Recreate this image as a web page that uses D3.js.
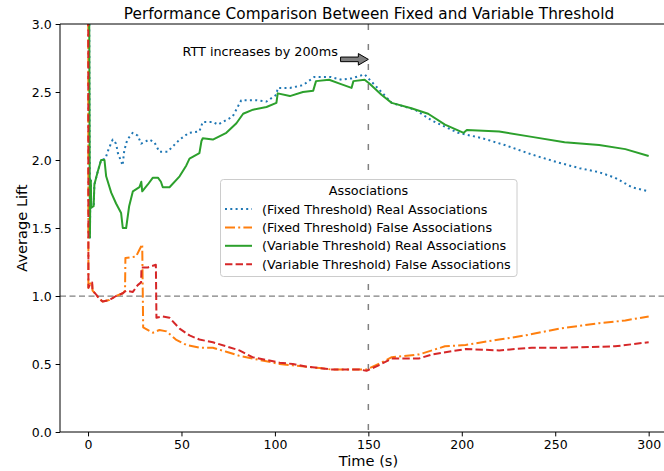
<!DOCTYPE html>
<html><head><meta charset="utf-8">
<script src="https://cdn.jsdelivr.net/npm/d3@7"></script>
<style>body{margin:0;background:#fff}svg{display:block}text{font-family:"DejaVu Sans",sans-serif;fill:#000}</style>
</head><body><svg id="c" width="664" height="471"></svg>
<script>
const xTicks=[0,50,100,150,200,250,300];
const yTicks=[0,0.5,1.0,1.5,2.0,2.5,3.0];
const seriesNames=["(Fixed Threshold) Real Associations","(Fixed Threshold) False Associations","(Variable Threshold) Real Associations","(Variable Threshold) False Associations"];
const fixedReal=[[0,6],[1,1.43],[1.3,1.85],[1.5,1.85],[1.7,1.65],[3,1.66],[3.4,1.82],[5.1,1.91],[7,2.0],[9.3,2.01],[11,2.08],[13.2,2.15],[15,2.12],[16,2.05],[17.7,1.99],[18.5,1.96],[19.4,2.07],[21,2.15],[23.9,2.20],[26.6,2.18],[28.4,2.12],[32.8,2.15],[35.5,2.13],[38.2,2.06],[42.5,2.06],[49,2.15],[54,2.20],[59.6,2.21],[61.4,2.28],[66.8,2.28],[69.6,2.26],[77.4,2.32],[82,2.44],[90,2.44],[95.5,2.43],[100.8,2.48],[101.5,2.53],[108,2.53],[115,2.55],[121,2.61],[130,2.61],[135.7,2.59],[141,2.60],[148,2.63],[150,2.60],[157,2.50],[162.5,2.42],[175,2.37],[184,2.29],[198,2.20],[211,2.16],[223,2.11],[237.5,2.04],[252,1.98],[263,1.94],[273.5,1.91],[282,1.87],[291,1.80],[300,1.77]];
const fixedFalse=[[0,6],[0.2,1.06],[1.6,1.10],[2.2,1.10],[2.4,1.04],[4.4,1.01],[6,0.98],[7.8,0.96],[11.4,0.97],[15,1.0],[18.6,1.02],[19.8,1.04],[20,1.28],[25.7,1.29],[27.5,1.34],[29,1.38],[29.5,0.77],[34.7,0.73],[38.2,0.75],[42,0.74],[47,0.68],[52.6,0.64],[59.6,0.62],[66.8,0.62],[74,0.59],[81,0.56],[88,0.54],[95.5,0.52],[102.5,0.50],[109.6,0.49],[124,0.47],[130,0.46],[145,0.46],[149,0.46],[155.5,0.50],[162.5,0.55],[177,0.57],[191,0.63],[202,0.64],[220,0.68],[234,0.71],[252,0.76],[273.5,0.80],[287.5,0.82],[300,0.85]];
const varReal=[[0,6],[1,1.43],[1.3,1.85],[1.5,1.85],[1.7,1.65],[3,1.66],[3.4,1.82],[5.1,1.91],[7,2.0],[8.8,2.0],[9.7,1.88],[12.4,1.76],[15,1.68],[17.7,1.61],[18.6,1.50],[20.4,1.50],[22,1.66],[24,1.77],[27.5,1.80],[28.5,1.84],[29,1.77],[32,1.82],[34.7,1.87],[37.4,1.87],[39,1.84],[40,1.80],[43.6,1.80],[49,1.88],[52.6,1.96],[54.3,2.01],[59.6,2.05],[60.7,2.14],[61.4,2.16],[66.8,2.15],[74,2.20],[79.4,2.27],[83,2.34],[88.3,2.37],[95.5,2.39],[100.8,2.42],[101.5,2.49],[108,2.47],[115,2.50],[120.5,2.51],[122,2.58],[129,2.59],[135,2.56],[141,2.53],[142,2.58],[148,2.59],[150.7,2.56],[157,2.48],[162.5,2.42],[173,2.38],[182,2.34],[191,2.26],[201,2.20],[202.7,2.22],[220,2.21],[237.5,2.17],[255,2.13],[273.5,2.11],[287.5,2.08],[300,2.03]];
const varFalse=[[0,6],[0.2,1.06],[1.6,1.10],[2.2,1.10],[2.4,1.04],[4.4,1.01],[6,0.98],[7.8,0.96],[11.4,0.97],[15,1.0],[18.6,1.02],[20.4,1.04],[24,1.03],[26.6,1.08],[28.4,1.10],[28.6,1.21],[32,1.21],[36.3,1.23],[36.6,0.84],[40,0.85],[43.6,0.84],[49,0.76],[54.3,0.71],[59.6,0.68],[66.8,0.66],[74,0.63],[81,0.60],[88,0.55],[95.5,0.53],[102.5,0.51],[109.6,0.50],[117,0.48],[124,0.47],[130,0.46],[145,0.46],[149,0.45],[155.5,0.49],[162.5,0.54],[177,0.54],[184,0.57],[202,0.61],[220,0.60],[237.5,0.62],[255,0.62],[282,0.63],[300,0.66]];
const rttTime=150, baseline=1.0, annotText="RTT increases by 200ms", annotXY=[50,2.74], arrowFrom=134.6;

const svg=d3.select("#c");
const L=60,R=676.7,T=24,B=432;
const x=d3.scaleLinear().domain([-15,315]).range([L,R]);
const y=d3.scaleLinear().domain([0,3]).range([B,T]);
svg.append("defs").append("clipPath").attr("id","cp").append("rect").attr("x",L).attr("y",T).attr("width",R-L).attr("height",B-T);
const g=svg.append("g").attr("clip-path","url(#cp)");
g.append("line").attr("x1",L).attr("x2",R).attr("y1",y(baseline)).attr("y2",y(baseline)).attr("stroke","#808080").attr("stroke-width",1.25).attr("stroke-dasharray","6,3.5");
g.append("line").attr("x1",x(rttTime)).attr("x2",x(rttTime)).attr("y1",T).attr("y2",B).attr("stroke","#808080").attr("stroke-width",1.5).attr("stroke-dasharray","6,14");
const styles=[{c:"#1f77b4",d:"2,3.3"},{c:"#ff7f0e",d:"10,3.2,2,3.2"},{c:"#2ca02c",d:null},{c:"#d62728",d:"7.4,3.2"}];
const line=d3.line().x(d=>x(d[0])).y(d=>y(d[1]));
[fixedReal,fixedFalse,varReal,varFalse].forEach((s,i)=>{
  const p=g.append("path").attr("d",line(s)).attr("fill","none").attr("stroke",styles[i].c).attr("stroke-width",2).attr("stroke-linejoin","round");
  if(styles[i].d)p.attr("stroke-dasharray",styles[i].d);
});
// axes
const xa=svg.append("g").attr("transform",`translate(0,${B})`).call(d3.axisBottom(x).tickValues(xTicks).tickSize(4.4).tickPadding(4));
const ya=svg.append("g").attr("transform",`translate(${L},0)`).call(d3.axisLeft(y).tickValues(yTicks).tickFormat(d3.format(".1f")).tickSize(4.4).tickPadding(4));
[xa,ya].forEach(a=>{a.selectAll("text").attr("font-size",12.5).attr("font-family","DejaVu Sans").attr("fill","#000");a.selectAll("line").attr("stroke","#000").attr("stroke-width",1);a.select(".domain").remove();});
svg.append("line").attr("x1",L).attr("x2",L).attr("y1",T).attr("y2",B).attr("stroke","#000").attr("stroke-width",1);
svg.append("line").attr("x1",L).attr("x2",R).attr("y1",B).attr("y2",B).attr("stroke","#000").attr("stroke-width",1);
svg.append("line").attr("x1",L).attr("x2",R).attr("y1",T).attr("y2",T).attr("stroke","#000").attr("stroke-width",1);
svg.append("text").attr("x",369).attr("y",19).attr("text-anchor","middle").attr("font-size",15.3).text("Performance Comparison Between Fixed and Variable Threshold");
svg.append("text").attr("x",368.5).attr("y",465.5).attr("text-anchor","middle").attr("font-size",14.6).text("Time (s)");
svg.append("text").attr("transform",`translate(27,${(T+B)/2}) rotate(-90)`).attr("text-anchor","middle").attr("font-size",14.6).text("Average Lift");
// annotation
svg.append("text").attr("x",x(annotXY[0])+1).attr("y",y(annotXY[1])-3).attr("font-size",12.8).text(annotText);
const ax0=x(arrowFrom)+1,ax1=x(rttTime),ay=y(annotXY[1]);
const hl=10,sh=2.3,hh=5.8;
svg.append("path").attr("d",`M${ax0},${ay-sh}L${ax1-hl},${ay-sh}L${ax1-hl},${ay-hh}L${ax1},${ay}L${ax1-hl},${ay+hh}L${ax1-hl},${ay+sh}L${ax0},${ay+sh}Z`).attr("fill","#808080").attr("stroke","#000").attr("stroke-width",1);
// legend
const lg=svg.append("g");
lg.append("rect").attr("x",220.5).attr("y",179.5).attr("width",296.5).attr("height",97).attr("rx",3).attr("fill","#fff").attr("fill-opacity",0.8).attr("stroke","#cccccc");
lg.append("text").attr("x",368.5).attr("y",195).attr("text-anchor","middle").attr("font-size",12.8).text("Associations");
seriesNames.forEach((n,i)=>{
  const yy=213.5+i*18.4;
  const l=lg.append("line").attr("x1",225).attr("x2",252).attr("y1",yy-4.5).attr("y2",yy-4.5).attr("stroke",styles[i].c).attr("stroke-width",2);
  if(styles[i].d)l.attr("stroke-dasharray",styles[i].d);
  lg.append("text").attr("x",262).attr("y",yy).attr("font-size",12.8).text(n);
});
</script></body></html>
